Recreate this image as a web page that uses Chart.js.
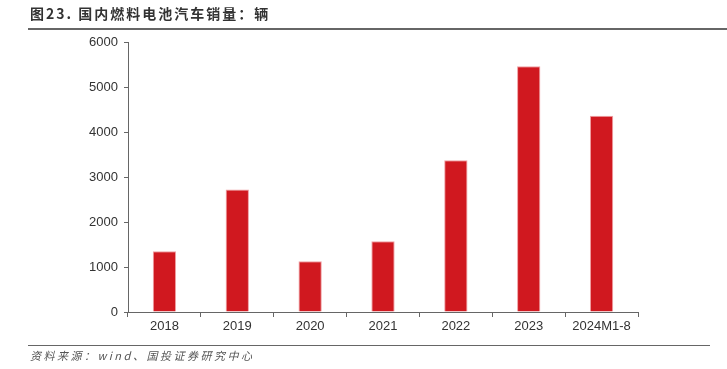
<!DOCTYPE html>
<html>
<head>
<meta charset="utf-8">
<script src="https://cdn.jsdelivr.net/npm/chart.js@4"></script>
<style>
  html, body { margin: 0; padding: 0; background: #fff; }
  #wrap { position: relative; width: 727px; height: 369px; overflow: hidden; }
  #title { position: absolute; left: 30px; top: 3px; font: bold 14px "Noto Sans CJK SC", sans-serif; color: #333; letter-spacing: 2px; }
  #titleLine { position: absolute; left: 28px; right: 0; top: 28px; border-top: 2px solid #666; }
  #footLine { position: absolute; left: 28px; width: 682px; top: 345px; border-top: 1px solid #666; }
  #foot { position: absolute; left: 30px; top: 347px; font: italic 11px "Noto Sans CJK SC", sans-serif; color: #555; letter-spacing: 2.5px; }
  canvas { position: absolute; left: 0; top: 0; }
</style>
</head>
<body>
<div id="wrap">
  <canvas id="salesChart" width="727" height="369"></canvas>
  <div id="title">图23. 国内燃料电池汽车销量：辆</div>
  <div id="titleLine"></div>
  <div id="footLine"></div>
  <div id="foot">资料来源：wind、国投证券研究中心</div>
</div>
<script>
const categories = ['2018', '2019', '2020', '2021', '2022', '2023', '2024M1-8'];
const sales = [1350, 2720, 1130, 1570, 3370, 5460, 4360];

const ctx = document.getElementById('salesChart').getContext('2d');

new Chart(ctx, {
    type: 'bar',
    data: {
        labels: categories,
        datasets: [{
            data: sales,
            backgroundColor: '#d0181f',
            borderColor: '#f0a0a4',
            borderWidth: { top: 1, left: 1, right: 1, bottom: 0 },
            barPercentage: 0.32,
            categoryPercentage: 1
        }]
    },
    options: {
        responsive: false,
        animation: false,
        layout: {
            padding: { left: 0, right: 89, top: 42, bottom: 0 }
        },
        plugins: {
            legend: { display: false },
            tooltip: { enabled: false }
        },
        scales: {
            x: {
                afterFit: (scale) => { scale.height = 57; },
                grid: {
                    offset: true,
                    drawOnChartArea: false,
                    drawTicks: true,
                    tickLength: 5,
                    color: '#666'
                },
                border: { color: '#666', width: 1 },
                ticks: {
                    color: '#333',
                    font: { family: 'Liberation Sans, Arial', size: 13 },
                    padding: 2,
                    maxRotation: 0
                }
            },
            y: {
                min: 0,
                max: 6000,
                afterFit: (scale) => { scale.width = 128; },
                grid: {
                    drawOnChartArea: false,
                    drawTicks: true,
                    tickLength: 4,
                    color: '#666'
                },
                border: { color: '#666', width: 1 },
                ticks: {
                    stepSize: 1000,
                    color: '#333',
                    font: { family: 'Liberation Sans, Arial', size: 13 },
                    padding: 6,
                    callback: (v) => String(v)
                }
            }
        }
    }
});
</script>
</body>
</html>
